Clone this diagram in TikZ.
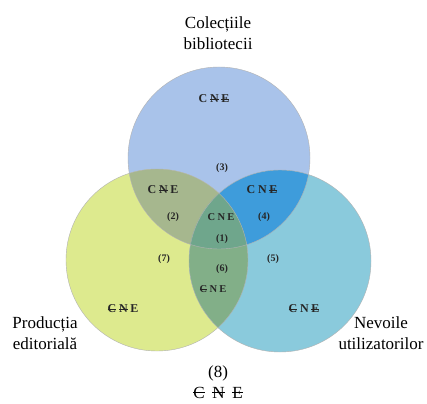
\documentclass[tikz,border=0pt]{standalone}
\usepackage{fontspec}
\setmainfont{Liberation Serif}
\definecolor{cTop}{HTML}{A9C3EA}
\definecolor{cLeft}{HTML}{DDEA8E}
\definecolor{cRight}{HTML}{8ACADC}
\definecolor{cTL}{HTML}{A6B78E}
\definecolor{cTR}{HTML}{3E9CDB}
\definecolor{cLR}{HTML}{82AF88}
\definecolor{cMid}{HTML}{6FA68C}
\newcommand\sx[1]{{\setbox0\hbox{#1}\rlap{\rule[0.62ex]{\wd0}{0.07em}}\box0}}
\tikzset{
  lab/.style={font=\fontsize{17}{21}\selectfont, align=center, text=black},
  cne/.style={font=\fontsize{12}{14}\selectfont\bfseries, text=black!85, inner sep=1pt},
  num/.style={font=\fontsize{10}{12}\selectfont\bfseries, text=black!85, inner sep=1pt},
  rim/.style={draw=black!30, line width=0.4pt}
}
\newcommand\gp{\hspace{0.22em}}
\begin{document}
\begin{tikzpicture}[x=1pt,y=-1pt]
\useasboundingbox (0,0) rectangle (427,403);
\fill[white] (0,0) rectangle (427,403);
\def\R{91}
\coordinate (T) at (219,158);
\coordinate (L) at (157,260);
\coordinate (Rr) at (280,261);
\fill[cTop] (T) circle (\R);
\fill[cLeft] (L) circle (\R);
\fill[cRight] (Rr) circle (\R);
\begin{scope}\clip (T) circle (\R); \fill[cTL] (L) circle (\R);\end{scope}
\begin{scope}\clip (T) circle (\R); \fill[cTR] (Rr) circle (\R);\end{scope}
\begin{scope}\clip (L) circle (\R); \fill[cLR] (Rr) circle (\R);\end{scope}
\begin{scope}\clip (T) circle (\R); \clip (L) circle (\R); \fill[cMid] (Rr) circle (\R);\end{scope}
\draw[rim] (T) circle (\R);
\draw[rim] (L) circle (\R);
\draw[rim] (Rr) circle (\R);
% outer labels
\node[lab] (lc) at (218,33) {Colecțiile\\bibliotecii};
\node[lab] (lp) at (45,333) {Producția\\editorială};
\node[lab] (ln) at (381,333) {Nevoile\\utilizatorilor};
\node[lab] (l8) at (218,382) {(8)\\\sx{C}\hspace{0.45em}\sx{N}\hspace{0.45em}\sx{E}};
% region labels
\node[cne] (r3c) at (214,99) {C\gp\sx{N}\gp\sx{E}};
\node[num] (r3) at (222,168) {(3)};
\node[cne] (r2c) at (163,190) {C\gp\sx{N}\gp E};
\node[num] (r2) at (173,217) {(2)};
\node[cne] (r4c) at (262,190) {C\gp N\gp\sx{E}};
\node[num] (r4) at (264,217) {(4)};
\node[cne,font=\fontsize{10.5}{12}\selectfont\bfseries] (r1c) at (221,217) {C\gp N\gp E};
\node[num] (r1) at (222,239) {(1)};
\node[num] (r7) at (164,259) {(7)};
\node[num] (r6) at (222,269) {(6)};
\node[num] (r5) at (273,259) {(5)};
\node[cne,font=\fontsize{10.5}{12}\selectfont\bfseries] (r6c) at (213,289) {\sx{C}\gp N\gp E};
\node[cne] (r7c) at (123,309) {\sx{C}\gp\sx{N}\gp E};
\node[cne] (r5c) at (304,309) {\sx{C}\gp N\gp\sx{E}};
\end{tikzpicture}
\end{document}
